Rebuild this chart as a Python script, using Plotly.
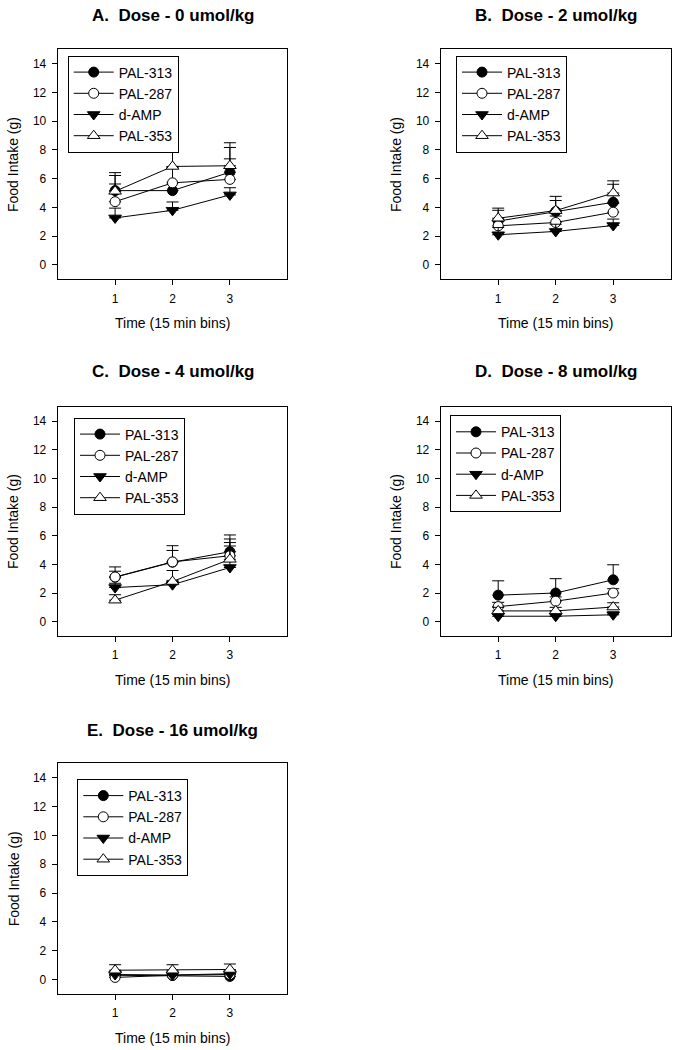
import plotly.graph_objects as go

# ---------------- data ----------------
time_bins = [1, 2, 3]
series_names = ["PAL-313", "PAL-287", "d-AMP", "PAL-353"]
panel_titles = [
    "A.  Dose - 0 umol/kg",
    "B.  Dose - 2 umol/kg",
    "C.  Dose - 4 umol/kg",
    "D.  Dose - 8 umol/kg",
    "E.  Dose - 16 umol/kg",
]
x_ticks = [1, 2, 3]
y_ticks = [0, 2, 4, 6, 8, 10, 12, 14]
x_title = "Time (15 min bins)"
y_title = "Food Intake (g)"

# means per series (PAL-313, PAL-287, d-AMP, PAL-353) at time bins 1..3
mean_dose0 = [[5.17, 5.17, 6.45], [4.40, 5.71, 5.95], [3.27, 3.80, 4.87], [5.12, 6.85, 6.90]]
se_dose0 = [[1.05, 1.60, 1.72], [1.23, 1.10, 1.43], [0.68, 0.58, 0.50], [1.30, 1.80, 1.60]]

mean_dose2 = [[3.05, 3.72, 4.36], [2.72, 2.95, 3.67], [2.10, 2.33, 2.74], [3.25, 3.78, 5.00]]
se_dose2 = [[0.75, 1.05, 1.25], [0.40, 0.45, 0.60], [0.50, 0.50, 0.45], [0.70, 0.70, 0.85]]

mean_dose4 = [[3.10, 4.15, 4.88], [3.12, 4.17, 4.60], [2.38, 2.58, 3.78], [1.50, 2.80, 4.35]]
se_dose4 = [[0.72, 1.15, 1.17], [0.40, 0.80, 1.17], [0.30, 0.30, 1.50], [0.38, 0.77, 1.17]]

mean_dose8 = [[1.85, 2.00, 2.92], [1.05, 1.43, 2.00], [0.38, 0.38, 0.48], [0.75, 0.75, 1.02]]
se_dose8 = [[1.00, 1.00, 1.05], [0.30, 0.30, 0.30], [0.20, 0.20, 0.20], [0.25, 0.25, 0.30]]

mean_dose16 = [[0.30, 0.28, 0.22], [0.15, 0.30, 0.35], [0.35, 0.32, 0.40], [0.65, 0.65, 0.70]]
se_dose16 = [[0.20, 0.20, 0.20], [0.20, 0.20, 0.20], [0.20, 0.20, 0.20], [0.38, 0.38, 0.38]]

panel_means = [mean_dose0, mean_dose2, mean_dose4, mean_dose8, mean_dose16]
panel_ses = [se_dose0, se_dose2, se_dose4, se_dose8, se_dose16]

# ---------------- styling / layout ----------------
W, H = 678, 1050
FONT = "Liberation Sans, Arial, sans-serif"

marker_styles = [
    dict(symbol="circle", size=10, color="black", line=dict(color="black", width=1)),
    dict(symbol="circle", size=10, color="white", line=dict(color="black", width=1)),
    dict(symbol="triangle-down", size=11, color="black", line=dict(color="black", width=1)),
    dict(symbol="triangle-up", size=11, color="white", line=dict(color="black", width=1)),
]

# plot frames in window pixels: (left, top, right, bottom)
frames = [
    (57.7, 49.3, 287.3, 279.3),
    (440.7, 49.3, 670.7, 279.3),
    (57.7, 406.7, 287.3, 636.0),
    (440.7, 406.7, 670.7, 636.0),
    (57.7, 763.3, 287.3, 994.0),
]
legend_pos = [(67.7, 55.5), (456.0, 55.5), (74.0, 417.5), (450.0, 415.2), (77.3, 779.0)]
title_y = [15.5, 15.5, 371.7, 371.7, 730.0]


def px_x(v):
    return v / W


def px_y(v):
    return 1 - v / H


fig = go.Figure()
layout = dict(
    width=W,
    height=H,
    margin=dict(l=0, r=0, t=0, b=0),
    paper_bgcolor="white",
    plot_bgcolor="white",
    font=dict(family=FONT, color="black"),
    annotations=[],
)

for p in range(5):
    sfx = "" if p == 0 else str(p + 1)
    xa, ya, lg = "x" + sfx, "y" + sfx, "legend" + sfx
    for s in range(4):
        fig.add_trace(
            go.Scatter(
                x=time_bins,
                y=panel_means[p][s],
                name=series_names[s],
                mode="lines+markers",
                line=dict(color="black", width=1),
                marker=marker_styles[s],
                error_y=dict(
                    type="data",
                    symmetric=False,
                    array=panel_ses[p][s],
                    arrayminus=[0] * len(time_bins),
                    color="black",
                    thickness=1,
                    width=6,
                ),
                xaxis=xa,
                yaxis=ya,
                legend=lg,
                showlegend=True,
            )
        )
    l, t, r, b = frames[p]
    layout["xaxis" + sfx] = dict(
        domain=[px_x(l), px_x(r)],
        anchor=ya,
        range=[0, 4],
        tickvals=x_ticks,
        ticks="outside",
        ticklen=5,
        tickcolor="black",
        ticklabelstandoff=3,
        showline=True,
        linecolor="black",
        linewidth=1,
        mirror=True,
        showgrid=False,
        zeroline=False,
        tickfont=dict(size=12, color="black", family=FONT),
    )
    layout["yaxis" + sfx] = dict(
        domain=[px_y(b), px_y(t)],
        anchor=xa,
        range=[-1, 15],
        tickvals=y_ticks,
        ticks="outside",
        ticklen=5,
        tickcolor="black",
        ticklabelstandoff=3,
        showline=True,
        linecolor="black",
        linewidth=1,
        mirror=True,
        showgrid=False,
        zeroline=False,
        tickfont=dict(size=12, color="black", family=FONT),
    )
    lx, ly = legend_pos[p]
    layout[lg] = dict(
        x=px_x(lx),
        y=px_y(ly),
        xanchor="left",
        yanchor="top",
        bgcolor="white",
        bordercolor="black",
        borderwidth=1,
        font=dict(size=14, family=FONT, color="black"),
        tracegroupgap=0,
        itemwidth=40,
        traceorder="normal",
    )
    cx = (l + r) / 2
    cy = (t + b) / 2
    layout["annotations"].append(dict(
        text="<b>" + panel_titles[p] + "</b>", x=px_x(cx), y=px_y(title_y[p]),
        xref="paper", yref="paper", xanchor="center", yanchor="middle",
        showarrow=False, font=dict(size=17, family=FONT, color="black"),
    ))
    layout["annotations"].append(dict(
        text=x_title, x=px_x(cx), y=px_y(b + 43.5),
        xref="paper", yref="paper", xanchor="center", yanchor="middle",
        showarrow=False, font=dict(size=14, family=FONT, color="black"),
    ))
    layout["annotations"].append(dict(
        text=y_title, x=px_x(l - 44.0), y=px_y(cy), textangle=-90,
        xref="paper", yref="paper", xanchor="center", yanchor="middle",
        showarrow=False, font=dict(size=14, family=FONT, color="black"),
    ))

fig.update_layout(**layout)
fig.write_html(
    "out.html",
    config={"displayModeBar": False},
    post_script="document.body.style.margin='0';document.body.style.padding='0';",
)
